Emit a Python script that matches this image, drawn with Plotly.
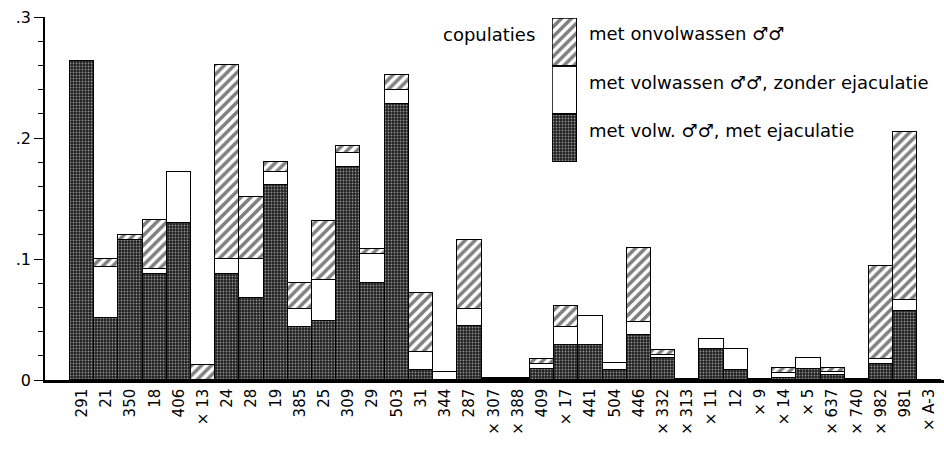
import plotly.graph_objects as go

# Animal identifiers (× marks animals flagged in the study)
animals = ["291", "21", "350", "18", "406", "× 13", "24", "28", "19", "385",
           "25", "309", "29", "503", "31", "344", "287", "× 307", "× 388", "409",
           "× 17", "441", "504", "446", "× 332", "× 313", "× 11", "12", "× 9", "× 14",
           "× 5", "× 637", "× 740", "× 982", "981", "× A-3"]

# Copulation frequency, split by type of partner
met_ejaculatie = [0.264, 0.051, 0.116, 0.088, 0.130, 0.0, 0.088, 0.068, 0.161, 0.044,
                  0.049, 0.176, 0.080, 0.228, 0.008, 0.0, 0.045, 0.001, 0.001, 0.009,
                  0.029, 0.029, 0.008, 0.037, 0.018, 0.001, 0.026, 0.008, 0.001, 0.002,
                  0.009, 0.004, 0.001, 0.013, 0.057, 0.0]
zonder_ejaculatie = [0.0, 0.042, 0.0, 0.004, 0.042, 0.0, 0.012, 0.032, 0.011, 0.015,
                     0.034, 0.012, 0.024, 0.012, 0.015, 0.007, 0.014, 0.0, 0.0, 0.004,
                     0.015, 0.024, 0.006, 0.011, 0.003, 0.0, 0.008, 0.018, 0.0, 0.004,
                     0.009, 0.003, 0.0, 0.004, 0.009, 0.0]
onvolwassen = [0.0, 0.007, 0.004, 0.040, 0.0, 0.012, 0.160, 0.051, 0.008, 0.021,
               0.048, 0.005, 0.004, 0.012, 0.049, 0.0, 0.057, 0.001, 0.001, 0.004,
               0.017, 0.0, 0.0, 0.061, 0.004, 0.0, 0.0, 0.0, 0.0, 0.004,
               0.0, 0.003, 0.0, 0.077, 0.139, 0.0]

y_tickvals = [0, 0.1, 0.2, 0.3]
y_ticktext = ["0", ".1", ".2", ".3"]

legend_labels = ["met onvolwassen ♂♂",
                 "met volwassen ♂♂, zonder ejaculatie",
                 "met volw. ♂♂, met ejaculatie"]

FONT = "DejaVu Sans"
W, H = 944, 454
L, R, T, B = 45, 0, 17, 74
PW, PH = W - L - R, H - T - B

outline = dict(color="black", width=1.5)
dark_style = dict(color="#202020", line=outline,
                  pattern=dict(shape=".", fgcolor="#ffffff", bgcolor="#202020",
                               size=3, solidity=0.3, fillmode="overlay"))
white_style = dict(color="white", line=outline)
hatch_style = dict(color="white", line=outline,
                   pattern=dict(shape="/", fgcolor="black", bgcolor="white",
                                size=7, solidity=0.5, fillmode="overlay"))

x_idx = list(range(len(animals)))

fig = go.Figure()
for vals, style in [(met_ejaculatie, dark_style),
                    (zonder_ejaculatie, white_style),
                    (onvolwassen, hatch_style)]:
    fig.add_trace(go.Bar(x=x_idx, y=vals, marker=style, width=1.0,
                         showlegend=False, hoverinfo="skip"))

# Legend swatch: one stacked column drawn on its own small axes
swatch_x = [0]
swatch_h = [1]
for style in [dark_style, white_style, hatch_style]:
    fig.add_trace(go.Bar(x=swatch_x, y=swatch_h, marker=style, width=1.0,
                         xaxis="x2", yaxis="y2", cliponaxis=False,
                         showlegend=False, hoverinfo="skip"))

# Outline each swatch cell
for k in range(3):
    fig.add_shape(type="rect", xref="x2", yref="y2", x0=-0.5, x1=0.5,
                  y0=k, y1=k + 1, line=dict(color="black", width=1.5),
                  fillcolor="rgba(0,0,0,0)", layer="above")


def px_x(p):
    return min(1.0, max(0.0, (p - L) / PW))


def px_y(p):
    return min(1.0, max(0.0, (H - B - p) / PH))


fig.update_layout(
    width=W, height=H,
    margin=dict(l=L, r=R, t=T, b=B),
    barmode="stack", bargap=0,
    paper_bgcolor="white", plot_bgcolor="white",
    font=dict(family=FONT, color="black"),
    xaxis=dict(range=[-1.53, 35.6], tickmode="array", tickvals=x_idx,
               ticktext=animals, tickangle=-90, ticks="",
               tickfont=dict(size=15, family=FONT), showgrid=False,
               zeroline=False, showline=True, linecolor="black", linewidth=2.5),
    yaxis=dict(range=[0, 0.3], tickmode="array", tickvals=y_tickvals,
               ticktext=y_ticktext, ticks="outside", ticklen=9, tickwidth=1.3,
               tickcolor="black", tickfont=dict(size=16, family=FONT),
               minor=dict(dtick=0.02, ticks="outside", ticklen=5, tickwidth=1.2,
                          tickcolor="black", showgrid=False),
               showgrid=False, zeroline=False, showline=True,
               linecolor="black", linewidth=1.5),
    xaxis2=dict(domain=[px_x(552), px_x(577)], range=[-0.5, 0.5], anchor="y2",
                visible=False, fixedrange=True),
    yaxis2=dict(domain=[px_y(162), px_y(18)], range=[0, 3], anchor="x2",
                visible=False, fixedrange=True),
)

fig.add_annotation(text="copulaties", xref="paper", yref="paper",
                   x=px_x(537), y=px_y(34), xanchor="right", yanchor="middle",
                   showarrow=False, font=dict(size=18, family=FONT))
for label, py in zip(legend_labels, [33, 83, 130]):
    fig.add_annotation(text=label, xref="paper", yref="paper",
                       x=px_x(587), y=px_y(py), xanchor="left", yanchor="middle",
                       showarrow=False, font=dict(size=18, family=FONT))

fig.write_html("out.html")
